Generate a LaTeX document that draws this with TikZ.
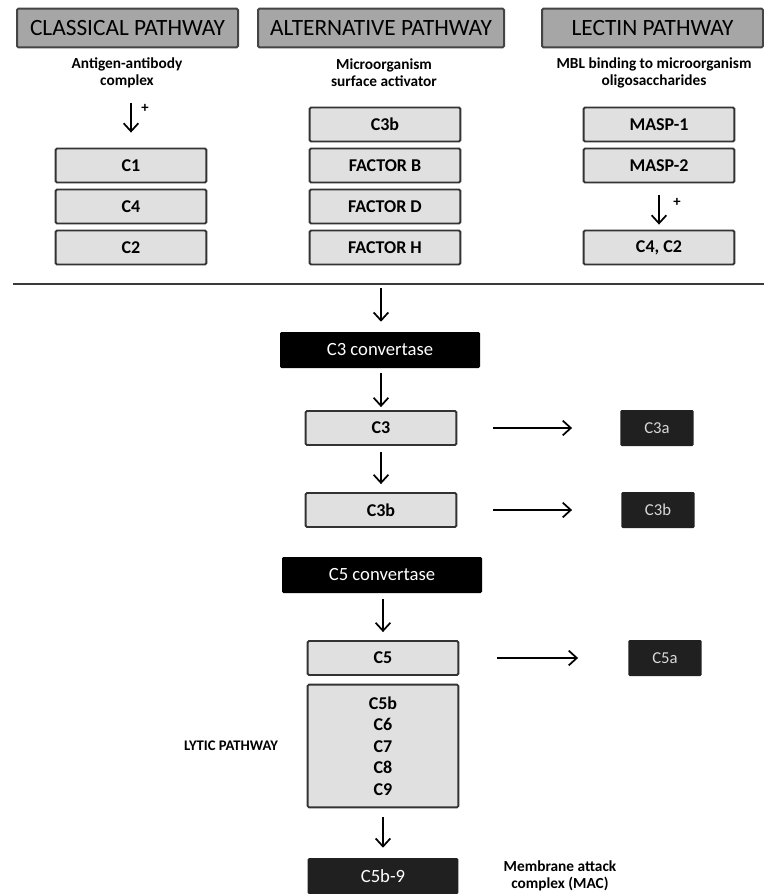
\documentclass[tikz,border=0pt]{standalone}
\usepackage{fontspec}
\setmainfont{Carlito}
\usetikzlibrary{arrows.meta}
\definecolor{hdfill}{HTML}{A6A6A6}
\definecolor{hdborder}{HTML}{444444}
\definecolor{lfill}{HTML}{E0E0E0}
\definecolor{lborder}{HTML}{333333}
\definecolor{sdark}{HTML}{202020}
\definecolor{stext}{HTML}{D8D8D8}
\definecolor{rule}{HTML}{3A3A3A}
\begin{document}
\begin{tikzpicture}[x=0.75pt,y=-0.75pt,
  hbox/.style={draw=hdborder, fill=hdfill, line width=1.5pt, minimum height=29pt, inner sep=0pt, rounded corners=1pt, font=\fontsize{17.5}{21}\selectfont},
  lbox/.style={draw=lborder, fill=lfill, line width=1.4pt, minimum width=113pt, minimum height=25.5pt, inner sep=0pt, rounded corners=1pt, font=\bfseries\fontsize{13.5}{16}\selectfont},
  dbox/.style={fill=black, text=white, minimum width=150pt, minimum height=27pt, inner sep=0pt, rounded corners=1pt, font=\fontsize{14}{17}\selectfont},
  sbox/.style={fill=sdark, text=stext, minimum width=55pt, minimum height=27pt, inner sep=0pt, rounded corners=1pt, font=\fontsize{12.5}{15}\selectfont},
  note/.style={font=\bfseries\fontsize{11.5}{12.75}\selectfont, align=center, inner sep=0pt},
  plusmark/.style={font=\bfseries\fontsize{11}{12}\selectfont, inner sep=0pt},
  arr/.style={line width=1.3pt, -{Straight Barb[length=6pt,width=11pt]}}
]
\useasboundingbox (0,0) rectangle (764,894);

% headers
\node[hbox, minimum width=165.75pt] (hclass) at (127.5,28) {CLASSICAL PATHWAY};
\node[hbox, minimum width=184.5pt] (halt) at (381,28) {ALTERNATIVE PATHWAY};
\node[hbox, minimum width=165.75pt] (hlect) at (652.5,28) {LECTIN PATHWAY};

% activators
\node[note] (tclass) at (127,73) {Antigen-antibody\\complex};
\node[note] (talt) at (384,73) {Microorganism\\surface activator};
\node[note] (tlect) at (654,73) {MBL binding to microorganism\\oligosaccharides};

% classical column
\node[lbox] (c1) at (131,165.5) {C1};
\node[lbox] (c4) at (131,206.5) {C4};
\node[lbox] (c2) at (131,247.5) {C2};
\coordinate (aclass) at (131,103);
\draw[arr, shorten >=11.25pt] (aclass) -- (c1.north);
\node[plusmark] (plus1) at (145,108) {+};

% alternative column
\node[lbox] (ac3b) at (385,124.5) {C3b};
\node[lbox] (fb) at (385,165.5) {FACTOR B};
\node[lbox] (fd) at (385,206.5) {FACTOR D};
\node[lbox] (fh) at (385,247.5) {FACTOR H};

% lectin column
\node[lbox] (m1) at (659,124.5) {MASP-1};
\node[lbox] (m2) at (659,165.5) {MASP-2};
\node[lbox] (lc4c2) at (659,247.5) {C4, C2};
\draw[arr, shorten <=9pt, shorten >=3.75pt] (m2.south) -- (lc4c2.north);
\node[plusmark] (plus2) at (677,202) {+};

% separator
\coordinate (rl) at (13,284);
\coordinate (rr) at (764,284);
\draw[rule, line width=2.2pt] (rl) -- (rr);

% terminal pathway
\coordinate (atop) at (381,288);
\node[dbox] (c3conv) at (380,350) {C3 convertase};
\draw[arr, shorten >=7.5pt] (atop) -- (c3conv.north -| atop);

\node[lbox] (c3) at (381,428) {C3};
\node[sbox] (c3a) at (657,428) {C3a};
\draw[arr, shorten <=3.75pt, shorten >=2.25pt] (c3conv.south -| c3) -- (c3.north);
\draw[arr, shorten <=27pt, shorten >=36pt] (c3.east) -- (c3a.west);

\node[lbox] (c3bm) at (381,510) {C3b};
\node[sbox] (c3bo) at (658,510) {C3b};
\draw[arr, shorten <=4.5pt, shorten >=6pt] (c3.south) -- (c3bm.north);
\draw[arr, shorten <=27pt, shorten >=36.75pt] (c3bm.east) -- (c3bo.west);

\node[dbox] (c5conv) at (382,575) {C5 convertase};
\node[lbox] (c5) at (383,658) {C5};
\node[sbox] (c5a) at (665,658) {C5a};
\draw[arr, shorten <=4.5pt, shorten >=6pt] (c5conv.south -| c5) -- (c5.north);
\draw[arr, shorten <=28.5pt, shorten >=37.5pt] (c5.east) -- (c5a.west);

\node[lbox, minimum height=92pt, align=center, font=\bfseries\fontsize{13.5}{16.1}\selectfont] (lytic) at (383,746) {C5b\\C6\\C7\\C8\\C9};
\node[font=\bfseries\fontsize{11}{13}\selectfont, inner sep=0pt] (lyticlbl) at (231,746) {LYTIC PATHWAY};

\node[dbox, minimum width=113pt, fill=sdark] (mac) at (383,876) {C5b-9};
\draw[arr, shorten <=6.75pt, shorten >=7.5pt] (lytic.south) -- (mac.north);
\node[note] (maclbl) at (560,876) {Membrane attack\\complex (MAC)};
\end{tikzpicture}
\end{document}
